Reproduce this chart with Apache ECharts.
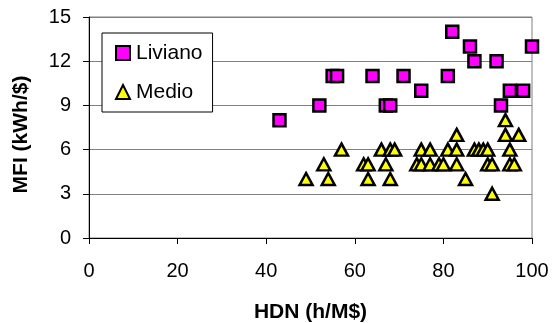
<!DOCTYPE html>
<html>
<head>
<meta charset="utf-8">
<script src="https://cdn.jsdelivr.net/npm/echarts@6/dist/echarts.min.js"></script>
<style>
html,body{margin:0;padding:0;background:#fff;}
#c{width:552px;height:323px;}
</style>
</head>
<body>
<div id="c"></div>
<script>
const seriesNames = ['Liviano', 'Medio'];
const livianoX = [43, 52, 55, 56, 64, 67, 68, 71, 75, 81, 82, 86, 87, 92, 93, 95, 98, 100];
const livianoY = [8, 9, 11, 11, 11, 9, 9, 11, 10, 11, 14, 13, 12, 12, 9, 10, 10, 13];
const medioX = [49, 53, 54, 57, 62, 63, 63, 66, 67, 68, 68, 69, 74, 75, 75, 77, 77, 79, 80, 81, 83, 83, 83, 85, 87, 88, 89, 90, 90, 91, 91, 94, 94, 97, 95, 95, 96];
const medioY = [4, 5, 4, 6, 5, 5, 4, 6, 5, 4, 6, 6, 5, 5, 6, 6, 5, 5, 5, 6, 7, 6, 5, 4, 6, 6, 6, 6, 5, 5, 3, 8, 7, 7, 6, 5, 5];
const xTicks = [0, 20, 40, 60, 80, 100];
const yTicks = [0, 3, 6, 9, 12, 15];
const xTitle = 'HDN (h/M$)';
const yTitle = 'MFI (kWh/$)';

const FONT = "'Liberation Sans', Arial, sans-serif";
const zip = (xs, ys) => xs.map((x, i) => [x, ys[i]]);

const chart = echarts.init(document.getElementById('c'), null, {renderer: 'canvas'});
chart.setOption({
  animation: false,
  backgroundColor: '#ffffff',
  textStyle: {fontFamily: FONT},
  grid: {
    left: 89, top: 17, width: 443, height: 221,
    show: true, borderColor: '#808080', borderWidth: 1,
    outerBoundsMode: 'none'
  },
  legend: {
    orient: 'vertical',
    left: 102, top: 33,
    padding: [9, 10, 9, 13],
    itemGap: 17,
    itemWidth: 14, itemHeight: 14,
    backgroundColor: '#ffffff',
    borderColor: '#000000', borderWidth: 1, borderRadius: 0,
    data: [
      {name: seriesNames[0], icon: 'rect'},
      {name: seriesNames[1], icon: 'triangle'}
    ],
    textStyle: {fontFamily: FONT, fontSize: 21, color: '#000', lineHeight: 22, padding: [0, 0, 0, 1]}
  },
  xAxis: {
    type: 'value', min: xTicks[0], max: xTicks[xTicks.length - 1], interval: 20,
    name: xTitle, nameLocation: 'middle', nameGap: 64, nameMoveOverlap: false,
    nameTextStyle: {fontFamily: FONT, fontSize: 21, fontWeight: 'bold', color: '#000'},
    axisLine: {show: true, onZero: false, lineStyle: {color: '#000', width: 1}},
    axisTick: {show: true, inside: false, length: 6, lineStyle: {color: '#000'}},
    axisLabel: {fontFamily: FONT, fontSize: 20, color: '#000', margin: 23},
    splitLine: {show: false}
  },
  yAxis: {
    type: 'value', min: yTicks[0], max: yTicks[yTicks.length - 1], interval: 3,
    name: yTitle, nameLocation: 'middle', nameGap: 57, nameMoveOverlap: false,
    nameTextStyle: {fontFamily: FONT, fontSize: 21, fontWeight: 'bold', color: '#000', padding: [0, 14, 0, 0]},
    axisLine: {show: true, onZero: false, lineStyle: {color: '#000', width: 1}},
    axisTick: {show: true, inside: false, length: 6, lineStyle: {color: '#000'}},
    axisLabel: {fontFamily: FONT, fontSize: 20, color: '#000', margin: 18},
    splitLine: {show: true, lineStyle: {color: '#808080', width: 1}}
  },
  series: [
    {
      name: seriesNames[0], type: 'scatter', symbol: 'rect', symbolSize: 12,
      itemStyle: {color: '#FF00FF', borderColor: '#000', borderWidth: 2.5, opacity: 1},
      data: zip(livianoX, livianoY), z: 3
    },
    {
      name: seriesNames[1], type: 'scatter', symbol: 'triangle', symbolSize: [13, 12],
      itemStyle: {color: '#FFFF00', borderColor: '#000', borderWidth: 2.5, opacity: 1},
      data: zip(medioX, medioY), z: 2
    }
  ]
});
</script>
</body>
</html>
